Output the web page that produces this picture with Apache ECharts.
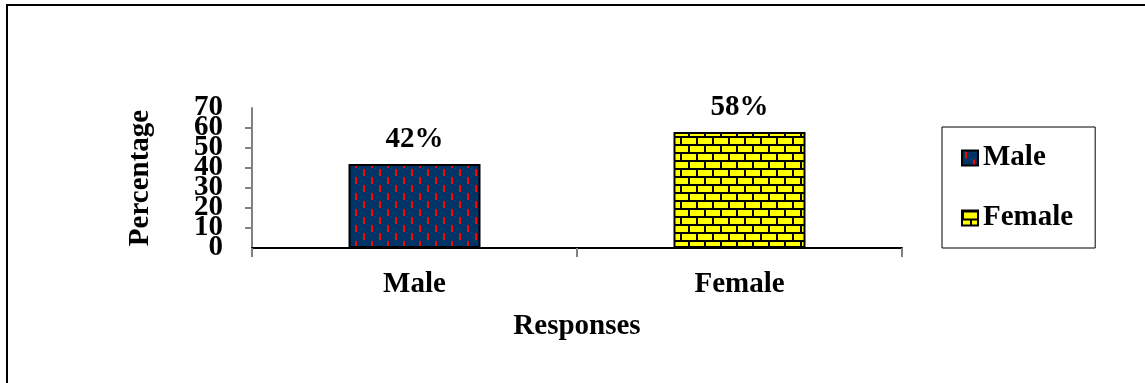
<!DOCTYPE html>
<html>
<head>
<meta charset="utf-8">
<script src="https://cdn.jsdelivr.net/npm/echarts@6/dist/echarts.min.js"></script>
<style>
  html, body { margin: 0; padding: 0; background: #fff; }
  #chart { width: 1145px; height: 383px; }
</style>
</head>
<body>
<div id="chart"></div>
<script>
// Survey responses by gender (percent)
const categories = ['Male', 'Female'];
const percentages = [42, 58];
const yTicks = { min: 0, max: 70, interval: 10 };

const FONT = '"Liberation Serif", "Times New Roman", serif';

// Navy fill with staggered red dashes
function dashTile() {
  const c = document.createElement('canvas');
  c.width = 16; c.height = 16;
  const g = c.getContext('2d');
  g.fillStyle = '#003366';
  g.fillRect(0, 0, 16, 16);
  g.fillStyle = '#ff0000';
  g.fillRect(3, 1, 2, 7);
  g.fillRect(11, 9, 2, 7);
  return c;
}

// Yellow brick fill with black mortar
function brickTile() {
  const c = document.createElement('canvas');
  c.width = 16; c.height = 16;
  const g = c.getContext('2d');
  g.fillStyle = '#ffff00';
  g.fillRect(0, 0, 16, 16);
  g.fillStyle = '#000000';
  g.fillRect(0, 0, 16, 2);
  g.fillRect(0, 8, 16, 2);
  g.fillRect(0, 0, 2, 8);
  g.fillRect(8, 8, 2, 8);
  return c;
}

const fills = [
  { image: dashTile(), repeat: 'repeat' },
  { image: brickTile(), repeat: 'repeat' }
];

const labelFont = { color: '#000', fontFamily: FONT, fontWeight: 'bold', fontSize: 29 };

const chart = echarts.init(document.getElementById('chart'), null, { renderer: 'canvas' });

const series = categories.map((name, i) => ({
  name: name,
  type: 'bar',
  stack: 'g',
  barWidth: 132,
  yAxisIndex: 0,
  data: categories.map((_, j) => (j === i ? percentages[i] : '-')),
  itemStyle: { color: fills[i], borderColor: '#000', borderWidth: 2 },
  label: Object.assign({
    show: true,
    position: 'top',
    distance: 10,
    formatter: '{c}%'
  }, labelFont),
  emphasis: { disabled: true }
}));

chart.setOption({
  animation: false,
  backgroundColor: '#fff',
  grid: { left: 252, right: 243, top: 108, bottom: 135, containLabel: false },
  legend: {
    orient: 'vertical',
    left: 942,
    top: 127,
    width: 110,
    padding: [16, 22, 15, 19],
    borderColor: '#000',
    borderWidth: 1,
    icon: 'rect',
    itemWidth: 16,
    itemHeight: 15,
    itemGap: 30,
    data: categories,
    textStyle: Object.assign({ lineHeight: 30 }, labelFont)
  },
  xAxis: {
    type: 'category',
    data: categories,
    name: 'Responses',
    nameLocation: 'middle',
    nameGap: 64,
    nameTextStyle: labelFont,
    axisLine: { lineStyle: { color: '#000', width: 2 } },
    axisTick: { show: true, length: 9, lineStyle: { color: '#808080', width: 2 } },
    axisLabel: Object.assign({ margin: 22 }, labelFont)
  },
  yAxis: [{
    // inner ticks 10..60
    type: 'value',
    position: 'left',
    min: yTicks.min,
    max: yTicks.max,
    interval: yTicks.interval,
    name: 'Percentage',
    nameLocation: 'middle',
    nameGap: 97,
    nameRotate: 90,
    nameTextStyle: labelFont,
    axisLine: { show: true, lineStyle: { color: '#808080', width: 2 } },
    axisTick: { show: true, length: 7, lineStyle: { color: '#808080', width: 2 } },
    splitLine: { show: false },
    axisLabel: Object.assign({ margin: 29, showMinLabel: false, showMaxLabel: false }, labelFont)
  }, {
    // end labels 0 and 70 on the same scale
    type: 'value',
    position: 'left',
    offset: 0,
    min: yTicks.min,
    max: yTicks.max,
    interval: yTicks.max - yTicks.min,
    axisLine: { show: false },
    axisTick: { show: false },
    splitLine: { show: false },
    axisLabel: Object.assign({ margin: 29 }, labelFont)
  }],
  graphic: [{
    type: 'rect',
    shape: { x: 7, y: 5, width: 1300, height: 500 },
    style: { fill: 'none', stroke: '#000', lineWidth: 2 },
    silent: true
  }],
  series: series
});
</script>
</body>
</html>
